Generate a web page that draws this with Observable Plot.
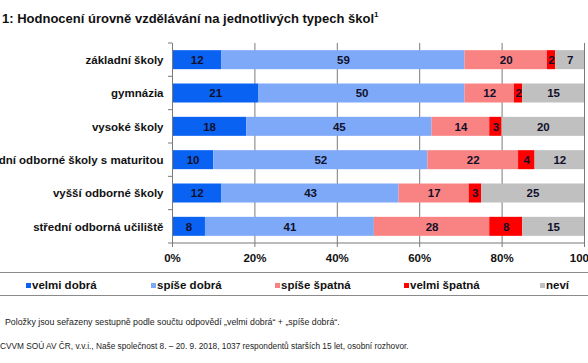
<!DOCTYPE html>
<html><head><meta charset="utf-8">
<script src="https://cdn.jsdelivr.net/npm/d3@7"></script>
<script src="https://cdn.jsdelivr.net/npm/@observablehq/plot@0.6"></script>
<style>
body{margin:0;background:#fff;font-family:"Liberation Sans",Arial,sans-serif;color:#111;}
#wrap{position:relative;width:588px;height:363px;overflow:hidden;background:#fff;}
.t{position:absolute;white-space:nowrap;}
.hr{position:absolute;left:0;width:588px;height:0;border-top:1.5px solid #8a8a8a;}
.lg{position:absolute;top:279px;font-weight:bold;font-size:11.5px;white-space:nowrap;}
.sw{display:inline-block;width:5px;height:5px;margin-right:1px;vertical-align:1px;}
</style></head><body>
<div id="wrap">
<div id="chart" style="position:absolute;left:0;top:0"></div>
<div class="t" style="left:2px;top:11px;font-weight:bold;font-size:13px;">1: Hodnocení úrovně vzdělávání na jednotlivých typech škol<sup style="font-size:8px;vertical-align:6px;line-height:0">1</sup></div>
<div class="hr" style="top:272px"></div>
<div id="legend"></div>
<div class="hr" style="top:295px"></div>
<div class="t" style="left:5px;top:317px;font-size:8.8px;color:#222;">Položky jsou seřazeny sestupně podle součtu odpovědí „velmi dobrá“ + „spíše dobrá“.</div>
<div class="t" style="left:0px;top:341px;font-size:8.3px;color:#222;">CVVM SOÚ AV ČR, v.v.i., Naše společnost 8. – 20. 9. 2018, 1037 respondentů starších 15 let, osobní rozhovor.</div>
</div>
<script>
const schools = ["základní školy","gymnázia","vysoké školy","střední odborné školy s maturitou","vyšší odborné školy","střední odborná učiliště"];
const answers = ["velmi dobrá","spíše dobrá","spíše špatná","velmi špatná","neví"];
const colors = ["#0a62f2","#7ea8f8","#f98383","#ff0000","#c0c0c0"];
const velmiDobra = [12,21,18,10,12,8];
const spiseDobra = [59,50,45,52,43,41];
const spiseSpatna = [20,12,14,22,17,28];
const velmiSpatna = [2,2,3,4,3,8];
const nevi = [7,15,20,12,25,15];
const xTicks = [0,20,40,60,80,100];
const legendX = [26,151,275,404,540];

const series = [velmiDobra,spiseDobra,spiseSpatna,velmiSpatna,nevi];
const data = [];
schools.forEach((s,i)=>answers.forEach((a,j)=>data.push({school:s,answer:a,value:series[j][i]})));

const padIn = 0.43;
function frame(index, scales, values, dims){
  const g = d3.create("svg:g").attr("stroke","#7a7a7a").attr("stroke-width",1).attr("fill","none");
  const x0 = scales.x(0), x1 = scales.x(100);
  const bottom = dims.height - dims.marginBottom;
  g.append("line").attr("x1",x0-4).attr("x2",x1).attr("y1",bottom).attr("y2",bottom);
  const step = scales.y(schools[1]) - scales.y(schools[0]);
  const bw = step*(1-padIn);
  const gap = (step-bw)/2;
  schools.forEach(s=>{
    const yb = scales.y(s) - gap;
    g.append("line").attr("x1",x0-4).attr("x2",x0).attr("y1",yb).attr("y2",yb);
  });
  return g.node();
}

const chart = Plot.plot({
  width:588, height:270,
  marginTop:43, marginBottom:27, marginLeft:172, marginRight:4,
  style:{fontFamily:"Liberation Sans, Arial, sans-serif", background:"transparent", overflow:"visible"},
  x:{domain:[0,100], label:null},
  y:{domain:schools, paddingInner:padIn, paddingOuter:padIn/2, round:false, label:null},
  color:{domain:answers, range:colors},
  marks:[
    Plot.gridX(xTicks.slice(1), {stroke:"#7a7a7a", strokeOpacity:1}),
    Plot.barX(data, Plot.stackX({x:"value", y:"school", fill:"answer"})),
    Plot.text(data, Plot.stackX({x:"value", y:"school", z:"answer", text:d=>String(d.value), fill:"#10102a", fontWeight:"bold", fontSize:11.5})),
    Plot.ruleX([0], {stroke:"#7a7a7a", insetBottom:-4}),
    frame,
    Plot.axisX({ticks:xTicks, tickFormat:d=>d+"%", tickSize:4, tickPadding:6, fontWeight:"bold", fontSize:11.5, fill:"#111", stroke:"#7a7a7a", label:null}),
    Plot.axisY({tickSize:0, tickPadding:9, fontWeight:"bold", fontSize:11.5, fill:"#111", label:null})
  ]
});
document.getElementById("chart").appendChild(chart);

const lg = document.getElementById("legend");
answers.forEach((a,i)=>{
  const d = document.createElement("div");
  d.className="lg"; d.style.left = legendX[i]+"px";
  d.innerHTML = `<span class="sw" style="background:${colors[i]}"></span>${a}`;
  lg.appendChild(d);
});
</script>
</body></html>
